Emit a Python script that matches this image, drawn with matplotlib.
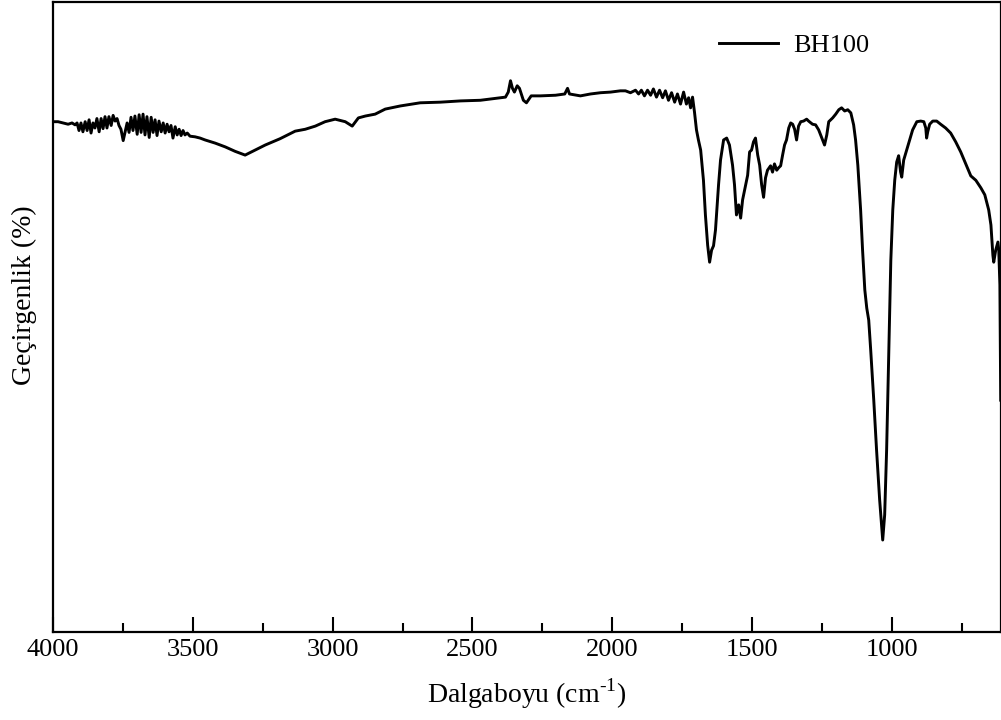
import matplotlib
matplotlib.use("Agg")
import matplotlib.pyplot as plt

plt.rcParams['font.family'] = ['Liberation Serif', 'DejaVu Serif']
plt.rcParams['mathtext.fontset'] = 'custom'
plt.rcParams['mathtext.rm'] = 'Liberation Serif'

# Wavenumber (cm-1) and transmittance (%)
wavenumber = [
    4000, 3982, 3964, 3946, 3932, 3921, 3914, 3907, 3900, 3893, 3885, 3878, 3871, 3864, 3857,
    3850, 3843, 3835, 3828, 3821, 3814, 3807, 3800, 3792, 3785, 3778, 3771, 3764, 3757, 3749,
    3742, 3735, 3728, 3721, 3714, 3707, 3699, 3692, 3685, 3678, 3671, 3664, 3656, 3649, 3642,
    3635, 3628, 3621, 3613, 3606, 3599, 3592, 3585, 3578, 3571, 3563, 3556, 3549, 3542, 3535,
    3528, 3520, 3510, 3492, 3474, 3456, 3420, 3384, 3349, 3313, 3277, 3241, 3188, 3134, 3098,
    3062, 3027, 2991, 2955, 2930, 2908, 2883, 2848, 2812, 2758, 2687, 2615, 2543, 2472, 2400,
    2382, 2372, 2364, 2357, 2350, 2340, 2332, 2318, 2307, 2290, 2257, 2203, 2170, 2160, 2153,
    2114, 2078, 2042, 2006, 1971, 1953, 1935, 1917, 1906, 1896, 1885, 1874, 1863, 1853, 1842,
    1831, 1820, 1810, 1799, 1788, 1777, 1767, 1756, 1745, 1735, 1727, 1720, 1713, 1706, 1699,
    1692, 1684, 1674, 1667, 1659, 1652, 1645, 1638, 1631, 1620, 1613, 1602, 1591, 1581, 1570,
    1563, 1556, 1548, 1541, 1534, 1523, 1516, 1509, 1502, 1495, 1488, 1480, 1473, 1466, 1459,
    1452, 1445, 1434, 1427, 1420, 1412, 1405, 1398, 1391, 1384, 1377, 1369, 1362, 1355, 1348,
    1341, 1334, 1326, 1316, 1305, 1298, 1284, 1273, 1262, 1248, 1241, 1233, 1226, 1219, 1212,
    1201, 1190, 1180, 1169, 1158, 1147, 1137, 1130, 1122, 1112, 1105, 1097, 1090, 1087, 1083,
    1076, 1065, 1055, 1044, 1033, 1026, 1019, 1012, 1004, 997, 990, 983, 976, 969, 965,
    958, 944, 926, 911, 897, 886, 879, 876, 872, 865, 854, 840, 826, 808, 790,
    772, 754, 736, 718, 700, 682, 668, 654, 646, 639, 636, 629, 621, 618, 614,
    611,
]
transmittance = [
    81.0, 81.0, 80.8, 80.6, 80.8, 80.5, 80.8, 79.6, 80.8, 79.4, 81.0, 79.6, 81.3, 79.2, 80.8,
    80.0, 81.5, 79.4, 81.5, 79.9, 81.8, 80.0, 81.8, 80.4, 82.0, 81.1, 81.5, 80.4, 79.8, 78.0,
    79.4, 80.8, 79.3, 81.7, 79.6, 81.9, 79.0, 82.1, 79.3, 82.2, 78.9, 81.8, 78.5, 81.7, 79.3,
    81.3, 78.8, 81.1, 79.4, 80.8, 79.2, 80.6, 79.4, 80.4, 78.4, 80.2, 78.9, 79.8, 78.8, 79.6,
    78.9, 79.2, 78.7, 78.6, 78.4, 78.1, 77.6, 77.0, 76.3, 75.7, 76.5, 77.3, 78.3, 79.5, 79.8,
    80.3, 81.0, 81.4, 81.0, 80.3, 81.6, 81.9, 82.2, 83.0, 83.5, 84.0, 84.1, 84.3, 84.4, 84.8,
    84.9, 85.7, 87.5, 86.3, 85.7, 86.7, 86.3, 84.4, 84.0, 85.1, 85.1, 85.2, 85.4, 86.3, 85.4,
    85.1, 85.4, 85.6, 85.7, 85.9, 85.9, 85.6, 86.0, 85.4, 86.0, 85.1, 86.0, 85.2, 86.2, 84.9,
    86.0, 84.8, 85.9, 84.4, 85.6, 84.1, 85.4, 83.8, 85.7, 83.8, 84.8, 83.2, 84.9, 82.5, 79.7,
    78.1, 76.5, 71.7, 66.2, 61.4, 58.7, 60.6, 61.3, 63.8, 71.0, 74.9, 78.1, 78.4, 77.3, 74.1,
    71.0, 66.2, 67.8, 65.7, 68.6, 71.0, 72.5, 76.2, 76.5, 77.8, 78.4, 75.7, 74.1, 71.0, 69.0,
    72.1, 73.3, 74.0, 73.0, 74.3, 73.3, 73.7, 74.0, 75.7, 77.3, 78.1, 80.0, 80.8, 80.6, 79.8,
    78.1, 80.3, 81.0, 81.1, 81.4, 81.1, 80.6, 80.5, 79.7, 78.1, 77.3, 78.9, 81.0, 81.3, 81.6,
    82.2, 82.9, 83.2, 82.7, 82.9, 82.4, 80.5, 78.1, 74.1, 67.0, 60.6, 54.3, 51.4, 50.6, 49.5,
    44.8, 36.8, 28.9, 21.0, 14.6, 18.6, 28.9, 43.2, 59.0, 67.0, 71.7, 74.6, 75.6, 73.0, 72.2,
    74.9, 77.0, 79.7, 81.0, 81.1, 81.0, 80.0, 78.4, 79.4, 80.6, 81.1, 81.1, 80.6, 80.0, 79.2,
    77.8, 76.2, 74.3, 72.4, 71.7, 70.5, 69.4, 67.0, 64.6, 59.8, 58.7, 60.6, 61.9, 60.6, 55.1,
    36.8,
]

series_label = "BH100"
x_label = "Dalgaboyu (cm$^{\\mathregular{\u20101}}$)"
y_label = "Geçirgenlik (%)"
major_ticks = [4000, 3500, 3000, 2500, 2000, 1500, 1000]
minor_ticks = [3750, 3250, 2750, 2250, 1750, 1250, 750]

fig = plt.figure(figsize=(10.01, 7.2), dpi=100)
ax = fig.add_axes([53 / 1001, 1 - 632 / 720, 948 / 1001, 630 / 720])

ax.plot(wavenumber, transmittance, color='black', lw=2.1, label=series_label)

ax.set_xlim(4000, 610)
ax.set_ylim(0, 100)
ax.set_xticks(major_ticks)
ax.set_xticklabels([str(t) for t in major_ticks])
ax.set_xticks(minor_ticks, minor=True)
ax.set_yticks([])
ax.tick_params(axis='x', which='major', direction='in', length=11, width=1.5,
               labelsize=19, pad=5, top=False)
ax.tick_params(axis='x', which='minor', direction='in', length=6.5, width=1.5, top=False)
for s in ax.spines.values():
    s.set_linewidth(1.6)

ax.set_xlabel(x_label, fontsize=20, labelpad=11)
ax.set_ylabel(y_label, fontsize=20)
ax.yaxis.set_label_coords(-0.017, 0.535)

ax.legend(loc='upper left', bbox_to_anchor=(719 / 1001, 1 - 34 / 720),
          bbox_transform=fig.transFigure, frameon=False, fontsize=19,
          handlelength=2.23, handletextpad=0.57, borderpad=0, borderaxespad=0)

fig.savefig('out.png', dpi=100)
